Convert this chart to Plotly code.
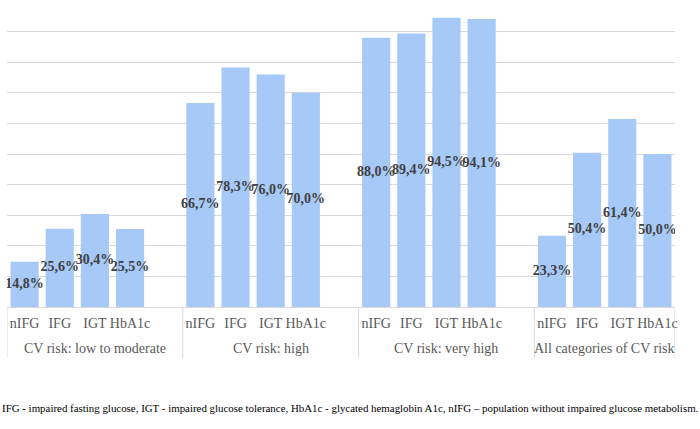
import plotly.graph_objects as go

groups = ["CV risk: low to moderate", "CV risk: high", "CV risk: very high", "All categories of CV risk"]
subcats = ["nIFG", "IFG", "IGT", "HbA1c"]
low_moderate = [14.8, 25.6, 30.4, 25.5]
high = [66.7, 78.3, 76.0, 70.0]
very_high = [88.0, 89.4, 94.5, 94.1]
all_categories = [23.3, 50.4, 61.4, 50.0]
footnote = ("IFG - impaired fasting glucose, IGT - impaired glucose tolerance, HbA1c - glycated "
            "hemaglobin A1c, nIFG – population without impaired glucose metabolism.")

series = [low_moderate, high, very_high, all_categories]
SERIF = "Liberation Serif, Times New Roman, Times, serif"
SLOTS = len(subcats) + 1  # one empty slot between groups

xpos, ys, labels, tickvals, ticktext = [], [], [], [], []
for gi, vals in enumerate(series):
    for si, (s, v) in enumerate(zip(subcats, vals)):
        p = gi * SLOTS + si
        xpos.append(p)
        ys.append(v)
        labels.append(f"{v:.1f}".replace(".", ",") + "%")
        tickvals.append(p)
        ticktext.append(s)

x_min = -0.5
x_max = (len(groups) - 1) * SLOTS + len(subcats) - 0.5
bounds = [gi * SLOTS - 0.5 for gi in range(len(groups))] + [x_max]

fig = go.Figure()
fig.add_trace(go.Bar(
    x=xpos, y=ys, width=0.8,
    marker=dict(color="#a6c9f8", line=dict(width=0)),
    hoverinfo="skip",
))
fig.add_trace(go.Scatter(
    x=xpos, y=[v / 2 for v in ys],
    mode="text", text=labels, textposition="middle center",
    textfont=dict(family=SERIF, size=14, color="#404040", weight="bold"),
    hoverinfo="skip",
))

PLOT_H = 429 - 1 - 122
shapes = [dict(type="line", xref="x", yref="paper", x0=b, x1=b, y0=0, y1=-51 / PLOT_H,
               line=dict(color="#d9d9d9", width=1)) for b in bounds]
annotations = [dict(text=g, xref="x", yref="paper", x=(bounds[i] + bounds[i + 1]) / 2,
                    y=-41 / PLOT_H, xanchor="center", yanchor="middle", showarrow=False,
                    font=dict(family=SERIF, size=14, color="#595959"))
               for i, g in enumerate(groups)]
annotations.append(dict(
    text=footnote, xref="paper", yref="paper",
    x=-7 / 668, y=-101 / PLOT_H, xanchor="left", yanchor="middle",
    showarrow=False,
    font=dict(family=SERIF, size=10.9, color="#000000"),
))

fig.update_layout(
    width=700, height=429,
    margin=dict(l=7, r=25, t=1, b=122, autoexpand=False),
    paper_bgcolor="white", plot_bgcolor="white",
    showlegend=False,
    font=dict(family=SERIF, size=14, color="#595959"),
    xaxis=dict(
        range=[x_min, x_max], tickvals=tickvals, ticktext=ticktext,
        showline=True, linecolor="#d9d9d9", linewidth=1,
        tickfont=dict(family=SERIF, size=14, color="#595959"),
        tickangle=0, automargin=False,
        ticks="outside", ticklen=3, tickcolor="rgba(0,0,0,0)",
        showgrid=False, zeroline=False,
    ),
    yaxis=dict(
        range=[0, 100], dtick=10, showticklabels=False,
        showgrid=True, gridcolor="#d9d9d9", gridwidth=1,
        zeroline=False, showline=False, ticks="", automargin=False,
    ),
    shapes=shapes,
    annotations=annotations,
)

fig.write_html("out.html", config={"displayModeBar": False},
               post_script="document.body.style.margin='0';")
